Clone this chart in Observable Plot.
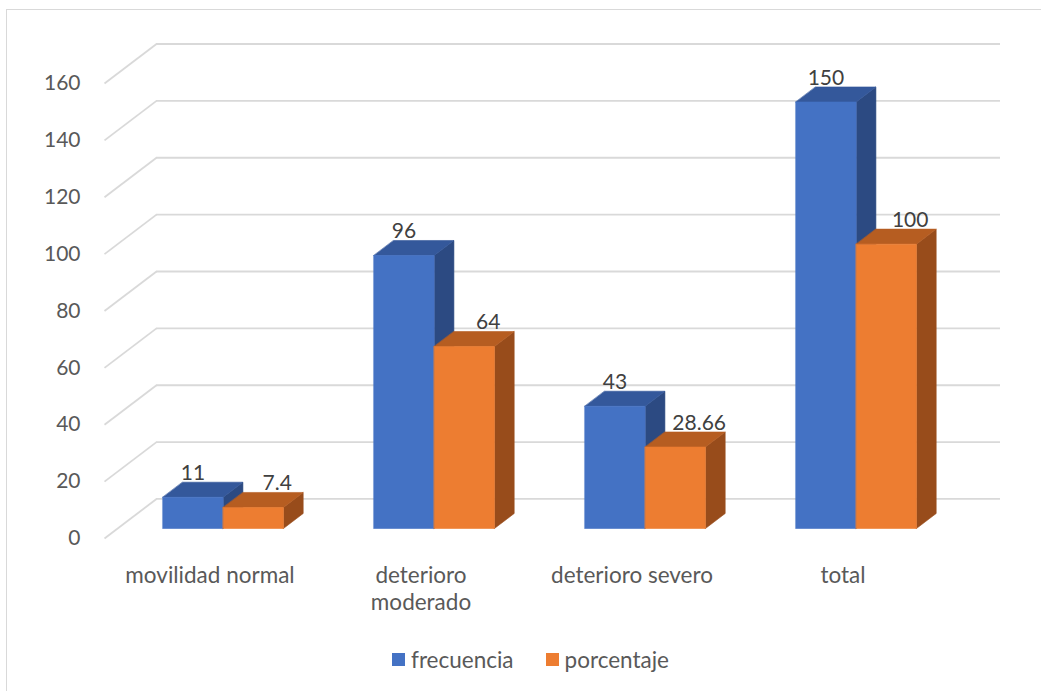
<!DOCTYPE html>
<html>
<head>
<meta charset="utf-8">
<script src="https://cdn.jsdelivr.net/npm/d3@7"></script>
<script src="https://cdn.jsdelivr.net/npm/@observablehq/plot@0.6"></script>
<style>
  html, body { margin: 0; padding: 0; background: #fff; }
  #wrap { position: relative; width: 1041px; height: 691px; overflow: hidden; font-family: Lato, sans-serif; }
  #frame { position: absolute; left: 6px; top: 9px; width: 1100px; height: 800px;
           border-left: 1.5px solid #d9d9d9; border-top: 1.5px solid #d9d9d9; }
  #chart { position: absolute; left: 0; top: 0; }
  #legend { position: absolute; left: 10px; top: 643px; width: 1041px; display: flex; justify-content: center; }
  #legend .lg-swatches { display: flex; align-items: center; font-family: Lato, sans-serif; font-size: 22.5px; color: #595959; margin: 0; }
  #legend .lg-swatch { display: inline-flex; align-items: center; margin-right: 32px; }
  #legend .lg-swatch:last-child { margin-right: 0; }
  #legend .lg-swatch > svg { margin-right: 6px; }
</style>
</head>
<body>
<div id="wrap">
  <div id="frame"></div>
  <div id="chart"></div>
  <div id="legend"></div>
</div>
<script>
// Categories and series values
const categories = ["movilidad normal", "deterioro moderado", "deterioro severo", "total"];
const frecuencia = [11, 96, 43, 150];
const porcentaje = [7.4, 64, 28.66, 100];
const seriesNames = ["frecuencia", "porcentaje"];
const yTicks = [0, 20, 40, 60, 80, 100, 120, 140, 160];

// Colours: front, top and side faces for each series
const frontColors = ["#4472c4", "#ed7d31"];
const topColors = ["#34589b", "#b65d21"];
const sideColors = ["#2c4a82", "#984c1b"];

// 3D projection: depth d in [0, 1] shifts a point right (category units) and up (value units)
const OX = 0.2464, OY = 13.9;
const D0 = 0.253, D1 = 0.633;           // front and back depth of the columns
const slots = [[0.2143, 0.5], [0.5, 0.7857]]; // column extents within a category band
const labelShift = [-10, 14];           // horizontal nudge of value labels per series (px)
const P = (x, v, d) => ({x: x + OX * d, y: v + OY * d});

const bars = [];
categories.forEach((c, i) => {
  [frecuencia, porcentaje].forEach((vals, s) => {
    bars.push({cat: c, i, s, value: vals[i], x0: i + slots[s][0], x1: i + slots[s][1]});
  });
});

// Polygon vertices for each face of each column
function faces(kind, s) {
  const pts = [];
  bars.filter(b => b.s === s).forEach(b => {
    const id = `${kind}-${b.i}-${s}`;
    let poly;
    if (kind === "front") poly = [P(b.x0, 0, D0), P(b.x1, 0, D0), P(b.x1, b.value, D0), P(b.x0, b.value, D0)];
    else if (kind === "top") poly = [P(b.x0, b.value, D0), P(b.x1, b.value, D0), P(b.x1, b.value, D1), P(b.x0, b.value, D1)];
    else poly = [P(b.x1, 0, D0), P(b.x1, 0, D1), P(b.x1, b.value, D1), P(b.x1, b.value, D0)];
    poly.forEach(p => pts.push({...p, id}));
  });
  return pts;
}

const faceMarks = [];
[0, 1].forEach(s => {
  [["side", sideColors[s]], ["top", topColors[s]], ["front", frontColors[s]]].forEach(([kind, color]) => {
    faceMarks.push(Plot.line(faces(kind, s), {
      x: "x", y: "y", z: "id", curve: "linear-closed",
      fill: color, stroke: color, strokeWidth: 0.6
    }));
  });
});

const gridColor = "#d9d9d9";
const nCat = categories.length;

const chart = Plot.plot({
  width: 1041,
  height: 620,
  marginLeft: 104,
  marginRight: 41,
  marginTop: 43.5,
  marginBottom: 82,
  style: {fontFamily: "Lato, sans-serif", fontSize: "21px", color: "#595959", background: "transparent"},
  x: {type: "linear", domain: [0, nCat + OX], axis: null},
  y: {domain: [0, 160 + OY], axis: null},
  marks: [
    // back wall gridlines
    Plot.ruleY(yTicks, {y: v => v + OY, x1: OX, x2: nCat + OX, stroke: gridColor, strokeWidth: 1.8}),
    // side wall gridlines
    Plot.link(yTicks, {x1: 0, y1: v => v, x2: OX, y2: v => v + OY, stroke: gridColor, strokeWidth: 1.8}),
    Plot.axisY({ticks: yTicks, tickSize: 0, tickPadding: 24, fontSize: 21, label: null}),
    ...faceMarks,
    // value labels above each column
    ...[0, 1].map(s => Plot.text(bars.filter(b => b.s === s), {
      x: b => (b.x0 + b.x1) / 2 + OX * (D0 + D1) / 2,
      y: b => b.value + OY * D1,
      text: b => String(b.value),
      dx: labelShift[s],
      lineAnchor: "bottom", dy: -2, fontSize: 21, fill: "#404040"
    })),
    // category labels on the floor front edge
    Plot.text(categories, {
      x: (d, i) => i + 0.5,
      y: 0,
      text: d => d.length > 16 ? d.replace(" ", "\n") : d,
      lineAnchor: "top", dy: 25, lineHeight: 1.2, fontSize: 22.5, fill: "#595959"
    })
  ]
});
document.getElementById("chart").append(chart);

const legend = Plot.legend({
  color: {domain: seriesNames, range: frontColors},
  legend: "swatches",
  swatchSize: 13,
  className: "lg"
});
document.getElementById("legend").append(legend);
</script>
</body>
</html>
